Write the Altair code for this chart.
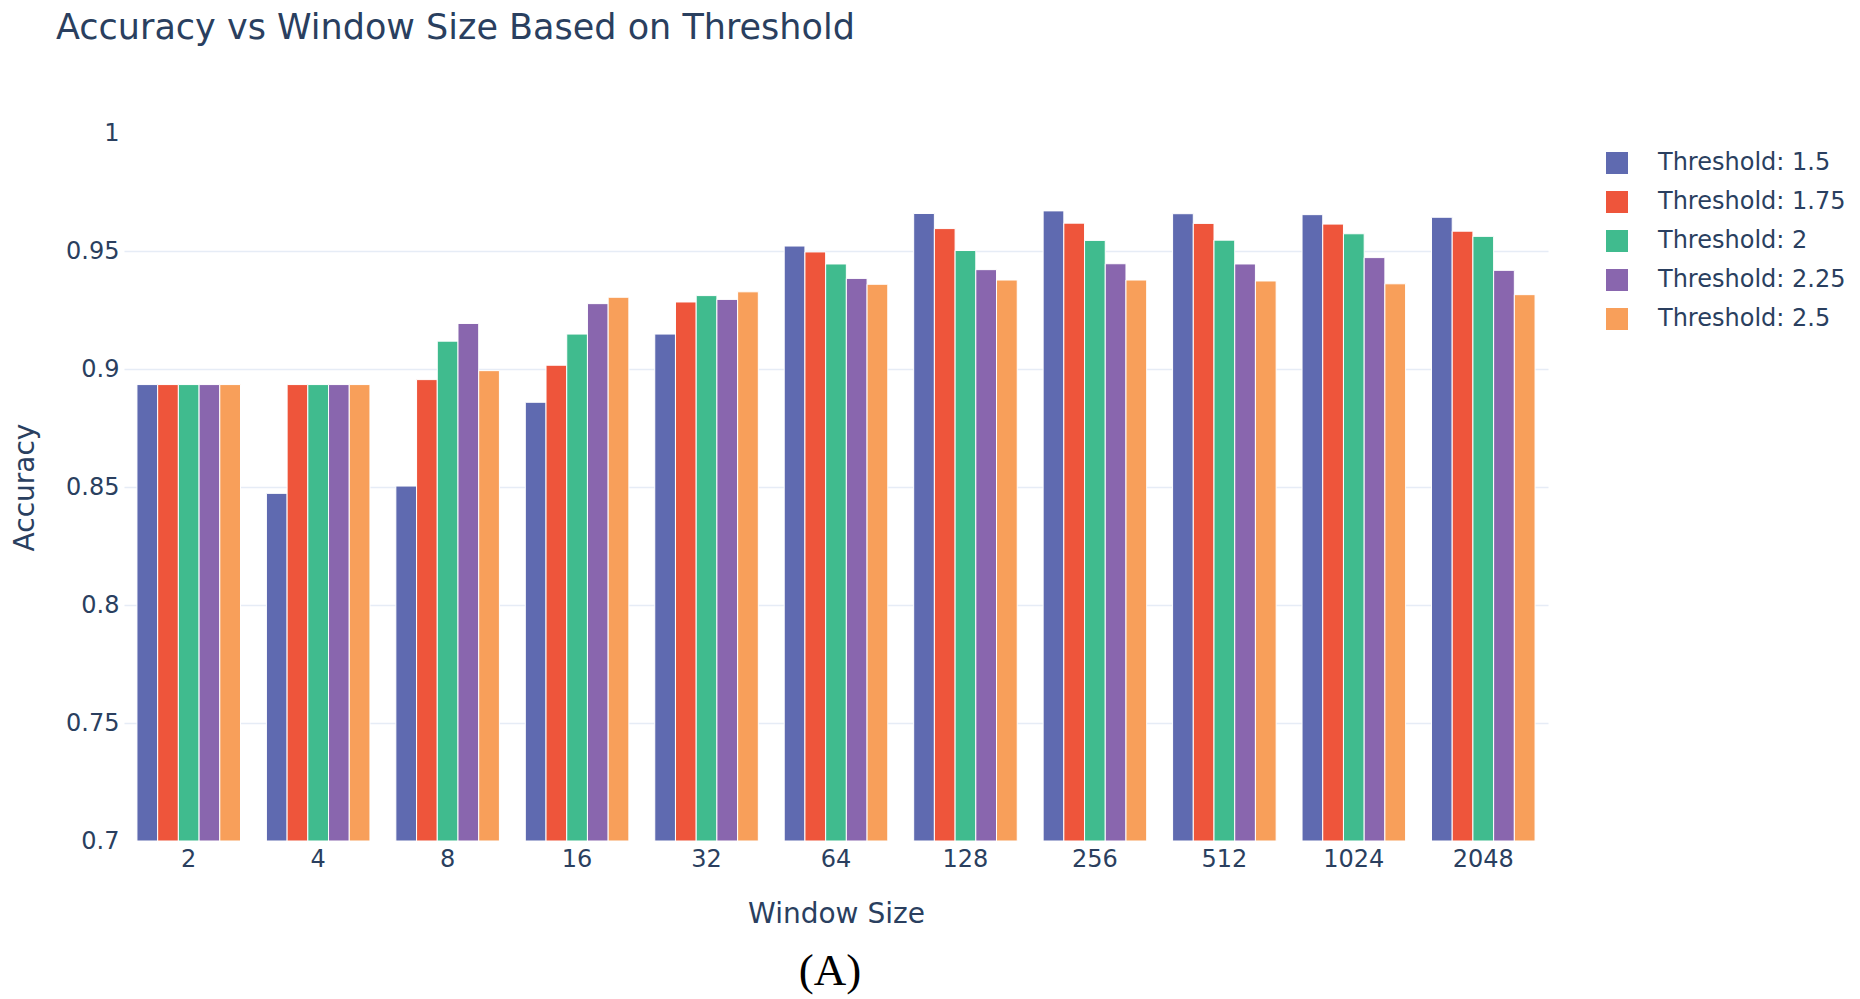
import altair as alt
import pandas as pd

windows = ["2", "4", "8", "16", "32", "64", "128", "256", "512", "1024", "2048"]
thresholds = ["Threshold: 1.5", "Threshold: 1.75", "Threshold: 2", "Threshold: 2.25", "Threshold: 2.5"]

acc_t150 = [0.8934, 0.8473, 0.8504, 0.8859, 0.9148, 0.9521, 0.9659, 0.9670, 0.9658, 0.9654, 0.9643]
acc_t175 = [0.8934, 0.8934, 0.8955, 0.9016, 0.9284, 0.9496, 0.9595, 0.9618, 0.9617, 0.9614, 0.9584]
acc_t200 = [0.8934, 0.8934, 0.9118, 0.9148, 0.9311, 0.9445, 0.9502, 0.9545, 0.9546, 0.9573, 0.9562]
acc_t225 = [0.8934, 0.8934, 0.9193, 0.9277, 0.9295, 0.9384, 0.9421, 0.9446, 0.9445, 0.9472, 0.9418]
acc_t250 = [0.8934, 0.8934, 0.8993, 0.9304, 0.9327, 0.9359, 0.9377, 0.9377, 0.9373, 0.9361, 0.9315]

y_ticks = [0.7, 0.75, 0.8, 0.85, 0.9, 0.95, 1.0]
colors = ["#5F6AB0", "#EE553B", "#40BB8E", "#8966AE", "#F89F5A"]

rows = []
for t, vals in zip(thresholds, [acc_t150, acc_t175, acc_t200, acc_t225, acc_t250]):
    for w, v in zip(windows, vals):
        rows.append({"window": w, "threshold": t, "accuracy": v})
df = pd.DataFrame(rows)

FONT = "DejaVu Sans"
TXT = "#2a3f5f"

bars = alt.Chart(df).mark_bar(stroke="white", strokeWidth=1).encode(
    x=alt.X(
        "window:N",
        sort=windows,
        scale=alt.Scale(paddingInner=0.2, paddingOuter=0.1),
        axis=alt.Axis(
            title="Window Size", labelAngle=0, ticks=False, domain=False, grid=False,
            labelFontSize=24, labelFont=FONT, labelColor=TXT, labelPadding=6,
            titleFontSize=28, titleFont=FONT, titleColor=TXT, titleFontWeight="normal",
            titlePadding=29,
        ),
    ),
    xOffset=alt.XOffset("threshold:N", sort=thresholds,
                        scale=alt.Scale(paddingInner=0, paddingOuter=0)),
    y=alt.Y(
        "accuracy:Q",
        scale=alt.Scale(domain=[0.7, 1.0], zero=False, nice=False),
        axis=alt.Axis(
            title="Accuracy", values=y_ticks, format=".2~f", ticks=False, domain=False,
            gridColor="#E6ECF6", gridWidth=1.5,
            gridOpacity={"condition": {"test": "datum.value <= 0.701 || datum.value >= 0.999", "value": 0}, "value": 1},
            labelFontSize=24, labelFont=FONT, labelColor=TXT, labelPadding=5,
            titleFontSize=28, titleFont=FONT, titleColor=TXT, titleFontWeight="normal",
            titlePadding=26,
        ),
    ),
    y2=alt.datum(0.7),
    color=alt.Color(
        "threshold:N",
        sort=thresholds,
        scale=alt.Scale(domain=thresholds, range=colors),
        legend=alt.Legend(
            title=None, orient="none", legendX=1481, legendY=18,
            symbolType="square", symbolSize=484, symbolStrokeWidth=0, symbolOpacity=1,
            labelFontSize=24, labelFont=FONT, labelColor=TXT, labelOffset=29,
            labelLimit=0, rowPadding=15, padding=0,
        ),
    ),
)

caption = alt.Chart(pd.DataFrame({"t": ["(A)"]})).mark_text(
    font="Liberation Serif", fontSize=45, color="black", baseline="middle", align="center"
).encode(text="t:N", x=alt.value(706), y=alt.value(838))

chart = alt.layer(bars, caption).properties(
    width=1424,
    height=708,
    title=alt.Title(
        "Accuracy vs Window Size Based on Threshold",
        anchor="start", frame="group", dx=-68, fontSize=35, font=FONT,
        color=TXT, fontWeight="normal", offset=75,
    ),
    autosize=alt.AutoSizeParams(type="none"),
    padding={"left": 116, "top": 125, "right": 304, "bottom": 157},
).configure_view(stroke=None)

chart.save("out.html", embed_options={"renderer": "svg", "actions": False})
